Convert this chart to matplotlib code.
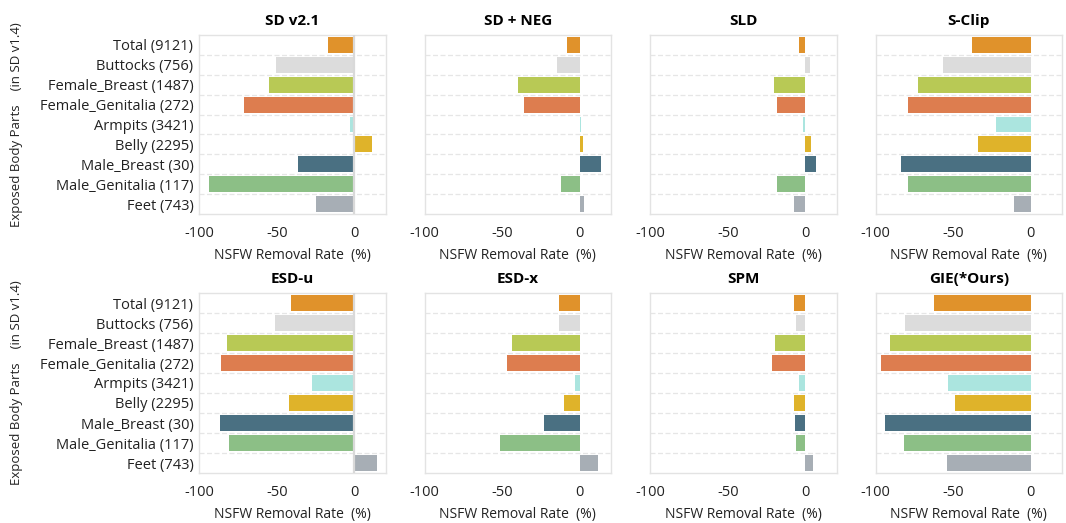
import matplotlib
matplotlib.use("Agg")
import matplotlib.pyplot as plt

plt.rcParams['font.family'] = ['Open Sans', 'DejaVu Sans']

categories = ["Total (9121)", "Buttocks (756)", "Female_Breast (1487)",
              "Female_Genitalia (272)", "Armpits (3421)", "Belly (2295)",
              "Male_Breast (30)", "Male_Genitalia (117)", "Feet (743)"]

colors = ["#E0922B", "#DCDCDC", "#B8C955", "#DD7D4F", "#ABE5DF",
          "#DFB32A", "#4A7082", "#8CBF86", "#A7AEB5"]

methods = ["SD v2.1", "SD + NEG", "SLD", "S-Clip",
           "ESD-u", "ESD-x", "SPM", "GIE(*Ours)"]

sd_v21 = [-17.2, -50.6, -55.0, -71.1, -2.8, 11.4, -36.6, -93.3, -24.8]
sd_neg = [-8.0, -14.6, -39.6, -36.3, 0.6, 1.9, 13.5, -12.3, 2.6]
sld = [-3.9, 3.0, -20.0, -18.0, -1.7, 3.9, 7.1, -18.0, -7.1]
s_clip = [-38.0, -56.7, -72.7, -79.2, -22.5, -34.1, -83.7, -79.2, -10.9]
esd_u = [-41.0, -51.3, -82.3, -85.6, -27.4, -41.8, -86.2, -80.4, 14.7]
esd_x = [-13.5, -13.5, -43.9, -47.1, -3.2, -10.5, -23.4, -51.6, 11.8]
spm = [-7.1, -5.8, -19.3, -21.2, -3.9, -7.1, -6.4, -5.8, 5.2]
gie = [-62.4, -81.1, -90.8, -96.6, -53.4, -48.9, -94.0, -81.8, -54.1]

series = [sd_v21, sd_neg, sld, s_clip, esd_u, esd_x, spm, gie]

W, H = 1066, 523
fig = plt.figure(figsize=(W / 100, H / 100), dpi=100)

lefts = [199, 424.5, 650, 875.5]
ax_w = 186.5
rows = [(35, 214), (293, 473)]

frame_col = "#E3E3E3"
for i, (name, vals) in enumerate(zip(methods, series)):
    r, c = divmod(i, 4)
    top, bot = rows[r]
    ax = fig.add_axes([lefts[c] / W, 1 - bot / H, ax_w / W, (bot - top) / H])
    y = range(len(categories))
    ax.barh(list(y), vals, height=0.8, color=colors, zorder=3)
    ax.set_xlim(-100, 20)
    ax.set_ylim(len(categories) - 0.5, -0.5)
    ax.set_xticks([-100, -50, 0])
    ax.set_xticklabels(["-100", "-50", "0"])
    for b in range(1, len(categories)):
        ax.axhline(b - 0.5, color="#E6E6E6", lw=0.9, ls=(0, (4, 2)), zorder=1)
    if c == 0:
        ax.axvline(0, color="#D9D9D9", lw=1.6, zorder=4)
        ax.set_yticks(list(y))
        ax.set_yticklabels(categories, fontsize=10.5, color="#222222")
        ax.set_ylabel("Exposed Body Parts    (in SD v1.4)", fontsize=9.5,
                      color="#222222")
        ax.yaxis.set_label_coords(-0.945, 0.5)
    else:
        ax.set_yticks([])
    ax.tick_params(axis="y", length=0, pad=4)
    ax.tick_params(axis="x", length=0, pad=9, labelsize=10.5,
                   labelcolor="#222222")
    for s in ax.spines.values():
        s.set_color(frame_col)
        s.set_linewidth(1.0)
    ax.set_title(name, fontsize=11, fontweight="bold", pad=7)
    ax.set_xlabel("NSFW Removal Rate  (%)", fontsize=10, color="#222222",
                  labelpad=5)

fig.savefig("out.png", dpi=100, facecolor="white")
